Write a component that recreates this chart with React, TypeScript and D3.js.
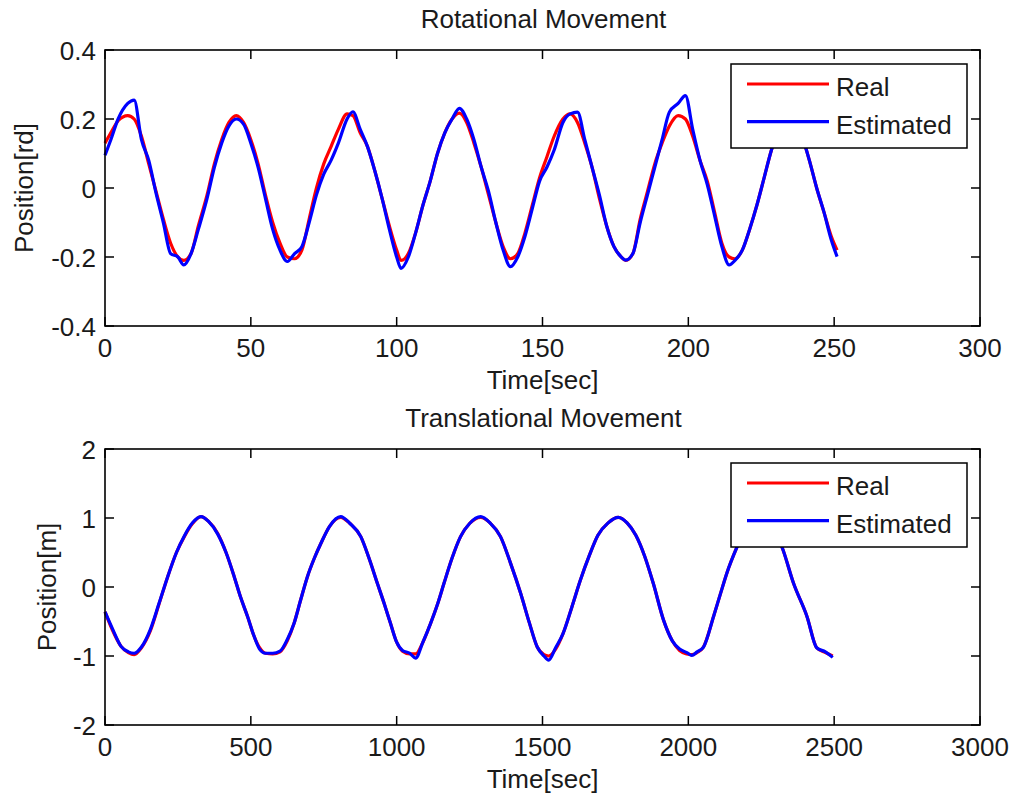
import React from 'react';
import * as d3 from 'd3';

// ---------- Rotational movement (top) ----------
const rotTime = [0, 2, 4.5, 7.8, 10, 12.5, 15, 17.5, 20, 22.5, 25, 27, 29.5, 32, 35, 37.5, 40, 42.5, 45, 47.5,
  50, 52.5, 55, 57.5, 60, 62.5, 65, 67.5, 70, 72.5, 75, 77.5, 80, 83, 85, 87.5, 90, 92.5, 95, 97.5,
  100, 101.5, 104, 106.5, 109, 111.5, 114, 116.5, 119, 121.5, 124, 126.5, 129, 131.5, 134, 136.5, 139, 141.5, 144, 146.5,
  149, 151.5, 154, 157, 159.5, 162, 164.5, 167, 169.5, 172, 174.5, 177, 178.5, 181, 183.5, 186, 188.5, 191, 193.5, 196.5,
  199, 201.5, 204, 206.5, 209, 211.5, 214, 216, 218.5, 221, 223.5, 226, 228.5, 231, 234, 236.5, 239, 241.5, 244, 246.5,
  249, 251];
const rotReal = [0.13, 0.16, 0.195, 0.21, 0.2, 0.15, 0.07, -0.01, -0.09, -0.16, -0.2, -0.21, -0.19, -0.11, -0.02, 0.07, 0.14, 0.19, 0.21, 0.19,
  0.14, 0.07, -0.02, -0.1, -0.16, -0.2, -0.205, -0.18, -0.09, 0.0, 0.07, 0.12, 0.17, 0.215, 0.21, 0.16, 0.12, 0.05, -0.03, -0.11,
  -0.18, -0.21, -0.19, -0.13, -0.05, 0.02, 0.1, 0.16, 0.2, 0.217, 0.19, 0.13, 0.06, -0.02, -0.1, -0.17, -0.205, -0.19, -0.13, -0.05,
  0.03, 0.09, 0.15, 0.2, 0.215, 0.19, 0.13, 0.06, -0.03, -0.11, -0.17, -0.2, -0.21, -0.19, -0.09, -0.01, 0.07, 0.13, 0.18, 0.21,
  0.2, 0.15, 0.08, 0.02, -0.07, -0.16, -0.2, -0.205, -0.18, -0.12, -0.05, 0.03, 0.11, 0.17, 0.21, 0.2, 0.15, 0.08, 0.0, -0.07,
  -0.14, -0.18];
const rotEst = [0.095, 0.14, 0.2, 0.245, 0.255, 0.14, 0.08, -0.015, -0.1, -0.19, -0.2, -0.223, -0.19, -0.12, -0.03, 0.06, 0.13, 0.18, 0.2, 0.185,
  0.13, 0.06, -0.03, -0.12, -0.18, -0.213, -0.19, -0.17, -0.1, -0.02, 0.04, 0.08, 0.13, 0.2, 0.221, 0.17, 0.12, 0.05, -0.03, -0.12,
  -0.2, -0.233, -0.2, -0.13, -0.05, 0.02, 0.1, 0.16, 0.2, 0.231, 0.2, 0.14, 0.06, -0.01, -0.1, -0.18, -0.228, -0.2, -0.14, -0.06,
  0.02, 0.06, 0.11, 0.19, 0.215, 0.22, 0.14, 0.06, -0.02, -0.11, -0.17, -0.2, -0.209, -0.19, -0.1, -0.02, 0.06, 0.14, 0.22, 0.245,
  0.268, 0.17, 0.08, 0.01, -0.08, -0.17, -0.223, -0.21, -0.18, -0.12, -0.05, 0.03, 0.11, 0.17, 0.21, 0.2, 0.15, 0.08, 0.0, -0.07,
  -0.15, -0.199];

// ---------- Translational movement (bottom) ----------
const transTime = [0, 25, 55, 80, 100, 125, 155, 185, 215, 245, 272, 300, 329, 355, 386, 415, 443, 465, 489, 510,
  530, 550, 575, 600, 625, 648, 670, 694, 718, 740, 770, 808, 840, 877, 905, 934, 958, 979, 1000, 1020,
  1045, 1065, 1090, 1116, 1140, 1162, 1190, 1219, 1250, 1288, 1320, 1356, 1390, 1425, 1455, 1482, 1505, 1521, 1545, 1570,
  1600, 1630, 1660, 1690, 1725, 1760, 1790, 1820, 1850, 1880, 1915, 1945, 1970, 1995, 2012, 2030, 2052, 2087, 2110, 2132,
  2167, 2200, 2244, 2285, 2321, 2361, 2407, 2440, 2470, 2495];
const transReal = [-0.36, -0.62, -0.86, -0.95, -0.98, -0.88, -0.64, -0.25, 0.15, 0.5, 0.73, 0.92, 1.02, 0.95, 0.78, 0.5, 0.15, -0.15, -0.43, -0.7,
  -0.88, -0.96, -0.97, -0.94, -0.78, -0.53, -0.2, 0.15, 0.42, 0.63, 0.88, 1.01, 0.92, 0.73, 0.42, 0.05, -0.25, -0.53, -0.8, -0.93,
  -0.97, -0.97, -0.8, -0.53, -0.25, 0.05, 0.42, 0.73, 0.92, 1.01, 0.93, 0.73, 0.35, -0.09, -0.52, -0.87, -0.98, -1.0, -0.9, -0.68,
  -0.3, 0.1, 0.45, 0.75, 0.93, 1.01, 0.93, 0.75, 0.45, 0.05, -0.48, -0.78, -0.92, -0.97, -0.98, -0.95, -0.87, -0.42, -0.1, 0.2,
  0.58, 0.88, 1.0, 0.88, 0.58, 0.05, -0.43, -0.88, -0.95, -1.0];
const transEst = [-0.36, -0.6, -0.86, -0.94, -0.96, -0.87, -0.62, -0.24, 0.15, 0.5, 0.74, 0.93, 1.02, 0.95, 0.77, 0.5, 0.15, -0.15, -0.43, -0.7,
  -0.9, -0.96, -0.96, -0.93, -0.76, -0.53, -0.2, 0.15, 0.42, 0.63, 0.88, 1.02, 0.92, 0.73, 0.42, 0.05, -0.25, -0.53, -0.8, -0.92,
  -0.96, -1.03, -0.8, -0.53, -0.25, 0.05, 0.42, 0.73, 0.92, 1.02, 0.93, 0.73, 0.35, -0.09, -0.52, -0.87, -1.0, -1.06, -0.88, -0.68,
  -0.3, 0.1, 0.45, 0.75, 0.93, 1.01, 0.93, 0.75, 0.45, 0.05, -0.48, -0.78, -0.9, -0.95, -0.99, -0.94, -0.87, -0.42, -0.1, 0.2,
  0.58, 0.88, 1.0, 0.88, 0.58, 0.05, -0.43, -0.88, -0.94, -1.02];

const rotXTicks = [0, 50, 100, 150, 200, 250, 300];
const rotYTicks = [-0.4, -0.2, 0, 0.2, 0.4];
const transXTicks = [0, 500, 1000, 1500, 2000, 2500, 3000];
const transYTicks = [-2, -1, 0, 1, 2];
const legendLabels = ['Real', 'Estimated'];
const seriesColors = ['#ff0000', '#0000ff'];

const FONT = "'Liberation Sans', Arial, sans-serif";
const FS = 26;
const TXT = '#1a1a1a';
const LEFT = 105;
const RIGHT = 980;

type PanelProps = {
  top: number; bottom: number;
  xDomain: [number, number]; yDomain: [number, number];
  xTicks: number[]; yTicks: number[];
  time: number[]; real: number[]; est: number[];
  title: string; xlabel: string; ylabel: string; ylabelX: number;
};

function Panel(p: PanelProps) {
  const x = d3.scaleLinear().domain(p.xDomain).range([LEFT, RIGHT]);
  const y = d3.scaleLinear().domain(p.yDomain).range([p.bottom, p.top]);
  const line = d3.line<[number, number]>()
    .x(d => x(d[0]))
    .y(d => y(d[1]))
    .curve(d3.curveMonotoneX);
  const realPts = p.time.map((t, i) => [t, p.real[i]] as [number, number]);
  const estPts = p.time.map((t, i) => [t, p.est[i]] as [number, number]);
  const tl = 9;
  const midX = (LEFT + RIGHT) / 2;
  const midY = (p.top + p.bottom) / 2;
  const lgX = 731, lgY = p.top + 14, lgW = 236, lgH = 84;
  return (
    <g>
      <text x={midX + 1} y={p.top - 22} textAnchor="middle" fontFamily={FONT} fontSize={FS} fill={TXT}>{p.title}</text>
      <rect x={LEFT} y={p.top} width={RIGHT - LEFT} height={p.bottom - p.top} fill="#fff" />
      <path d={line(realPts) || ''} fill="none" stroke={seriesColors[0]} strokeWidth={3.2} strokeLinejoin="round" />
      <path d={line(estPts) || ''} fill="none" stroke={seriesColors[1]} strokeWidth={3.2} strokeLinejoin="round" />
      {p.xTicks.map(t => (
        <g key={'x' + t}>
          <line x1={x(t)} x2={x(t)} y1={p.bottom} y2={p.bottom - tl} stroke="#000" strokeWidth={1.5} />
          <line x1={x(t)} x2={x(t)} y1={p.top} y2={p.top + tl} stroke="#000" strokeWidth={1.5} />
          <text x={x(t)} y={p.bottom + 31} textAnchor="middle" fontFamily={FONT} fontSize={FS} fill={TXT}>{String(t)}</text>
        </g>
      ))}
      {p.yTicks.map(t => (
        <g key={'y' + t}>
          <line x1={LEFT} x2={LEFT + tl} y1={y(t)} y2={y(t)} stroke="#000" strokeWidth={1.5} />
          <line x1={RIGHT} x2={RIGHT - tl} y1={y(t)} y2={y(t)} stroke="#000" strokeWidth={1.5} />
          <text x={96} y={y(t) + 9.5} textAnchor="end" fontFamily={FONT} fontSize={FS} fill={TXT}>{String(t)}</text>
        </g>
      ))}
      <rect x={LEFT} y={p.top} width={RIGHT - LEFT} height={p.bottom - p.top} fill="none" stroke="#000" strokeWidth={1.6} />
      <text x={midX} y={p.bottom + 63} textAnchor="middle" fontFamily={FONT} fontSize={FS} fill={TXT}>{p.xlabel}</text>
      <text transform={`translate(${p.ylabelX},${midY}) rotate(-90)`} textAnchor="middle" fontFamily={FONT} fontSize={FS} fill={TXT}>{p.ylabel}</text>
      <g>
        <rect x={lgX} y={lgY} width={lgW} height={lgH} fill="#fff" stroke="#000" strokeWidth={1.5} />
        {legendLabels.map((lab, i) => {
          const ly = lgY + 20 + i * 37.7;
          return (
            <g key={lab}>
              <line x1={747} x2={829} y1={ly} y2={ly} stroke={seriesColors[i]} strokeWidth={3.2} />
              <text x={836} y={ly + 12} fontFamily={FONT} fontSize={FS} fill={TXT}>{lab}</text>
            </g>
          );
        })}
      </g>
    </g>
  );
}

export default function App() {
  return (
    <svg width={1012} height={796} style={{ position: 'absolute', left: 0, top: 0, background: '#fff' }}>
      <rect x={0} y={0} width={1012} height={796} fill="#fff" />
      <Panel top={50} bottom={326} xDomain={[0, 300]} yDomain={[-0.4, 0.4]} xTicks={rotXTicks} yTicks={rotYTicks}
        time={rotTime} real={rotReal} est={rotEst} title="Rotational Movement" xlabel="Time[sec]" ylabel="Position[rd]" ylabelX={33} />
      <Panel top={449} bottom={725} xDomain={[0, 3000]} yDomain={[-2, 2]} xTicks={transXTicks} yTicks={transYTicks}
        time={transTime} real={transReal} est={transEst} title="Translational Movement" xlabel="Time[sec]" ylabel="Position[m]" ylabelX={56} />
    </svg>
  );
}
